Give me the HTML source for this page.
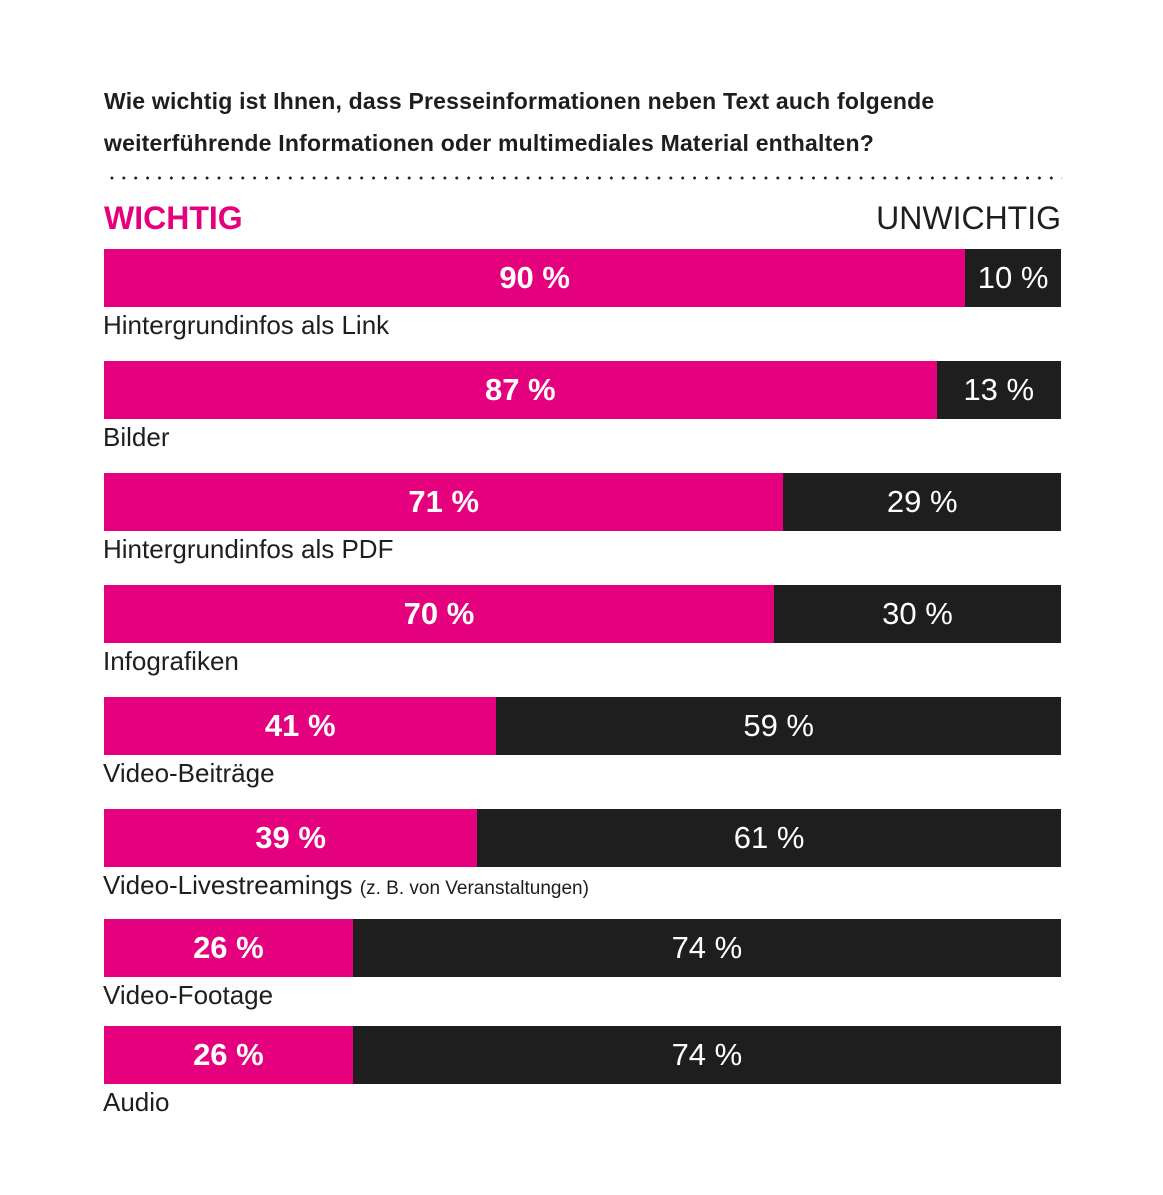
<!DOCTYPE html>
<html><head><meta charset="utf-8">
<style>
body{margin:0;background:#fff;width:1163px;height:1195px;overflow:hidden;font-family:"Liberation Sans",sans-serif;position:relative}
.t{position:absolute;left:104px;font-weight:bold;font-size:23px;color:#1e1e1e;letter-spacing:0.2px}
.dots{position:absolute;left:106px;top:176px;width:956px;height:4px;background:radial-gradient(circle,#1e1e1e 1.3px,transparent 1.6px) 0 0/11.9px 4px repeat-x}
.hd{position:absolute;top:198px;font-size:32px;line-height:40px}
.bar{position:absolute;height:58px}
.v{position:absolute;top:0;height:58px;line-height:58px;color:#fff;font-size:31px;text-align:center}
.lab{position:absolute;left:103px;font-size:26px;color:#1e1e1e;line-height:30px}
</style></head><body>
<div class="t" style="top:88px">Wie wichtig ist Ihnen, dass Presseinformationen neben Text auch folgende</div>
<div class="t" style="top:130px">weiterführende Informationen oder multimediales Material enthalten?</div>
<div class="dots"></div>
<div class="hd" style="left:104px;color:#e5007e;font-weight:bold">WICHTIG</div>
<div class="hd" style="right:102px;color:#1e1e1e">UNWICHTIG</div>
<div id="chart"></div>
<script>
const categories=["Hintergrundinfos als Link","Bilder","Hintergrundinfos als PDF","Infografiken","Video-Beiträge","Video-Livestreamings","Video-Footage","Audio"];
const notes=["","","","","","(z. B. von Veranstaltungen)","",""];
const important=[90,87,71,70,41,39,26,26];
const unimportant=[10,13,29,30,59,61,74,74];
const rowTops=[249,361,473,585,697,809,919,1026];
const X0=104,W=957;
const xs=v=>X0+W*v/100;
const chart=document.getElementById('chart');
categories.forEach((c,i)=>{
  const top=rowTops[i];
  const tot=important[i]+unimportant[i];
  const split=xs(important[i]*100/tot);
  const p=document.createElement('div');
  
  
  p.className='bar';p.style.cssText=`left:${X0}px;top:${top}px;width:${split-X0}px;background:#e5007e`;
  p.innerHTML=`<div class="v" style="left:0;right:0;font-weight:bold">${important[i]} %</div>`;
  chart.appendChild(p);
  const d=document.createElement('div');
  
  
  d.className='bar';d.style.cssText=`left:${split}px;top:${top}px;width:${X0+W-split}px;background:#1e1e1e`;
  d.innerHTML=`<div class="v" style="left:0;right:0">${unimportant[i]} %</div>`;
  chart.appendChild(d);
  const l=document.createElement('div');
  
  
  l.className='lab';l.style.top=(top+61)+'px';
  l.innerHTML=c+(notes[i]?` <span style="font-size:19px">${notes[i]}</span>`:'');
  chart.appendChild(l);
});
</script>
</body></html>
